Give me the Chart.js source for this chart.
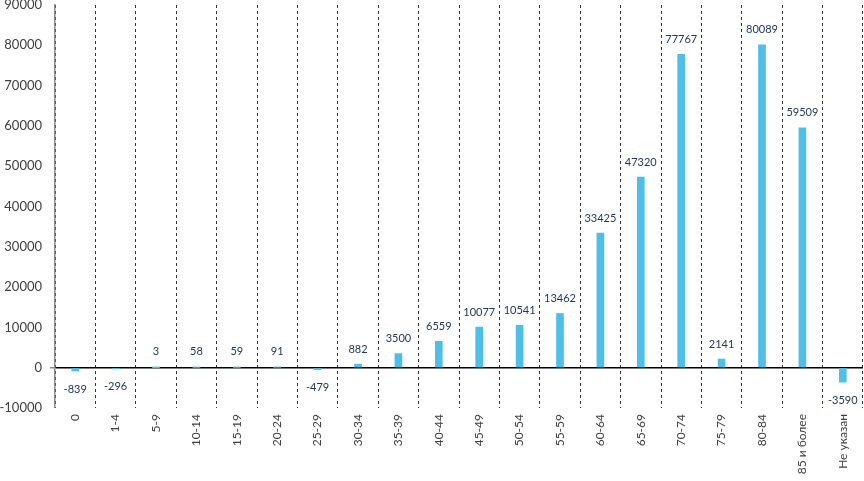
<!DOCTYPE html>
<html>
<head>
<meta charset="utf-8">
<script src="https://cdn.jsdelivr.net/npm/chart.js@4.4.0/dist/chart.umd.min.js"></script>
<style>
html,body{margin:0;padding:0;background:#fff;}
#wrap{width:864px;height:481px;position:relative;}
</style>
</head>
<body>
<div id="wrap"><canvas id="c"></canvas></div>
<script>
const categories = ["0","1-4","5-9","10-14","15-19","20-24","25-29","30-34","35-39","40-44","45-49","50-54","55-59","60-64","65-69","70-74","75-79","80-84","85 и более","Не указан"];
const values = [-839,-296,3,58,59,91,-479,882,3500,6559,10077,10541,13462,33425,47320,77767,2141,80089,59509,-3590];
const yMin = -10000, yMax = 90000, yStep = 10000;

const labelPlugin = {
  id: 'barLabels',
  afterDatasetsDraw(chart) {
    const ctx = chart.ctx;
    const meta = chart.getDatasetMeta(0);
    ctx.save();
    ctx.font = '11px Lato';
    ctx.fillStyle = '#1f3864';
    ctx.textAlign = 'center';
    ctx.textBaseline = 'middle';
    meta.data.forEach((bar, i) => {
      const v = values[i];
      const y = v >= 0 ? Math.min(bar.y, bar.base) - 15 : Math.max(bar.y, bar.base) + 18;
      ctx.fillText(String(v), bar.x, y);
    });
    ctx.restore();
  }
};

new Chart(document.getElementById('c'), {
  type: 'bar',
  data: {
    labels: categories,
    datasets: [{
      data: values,
      backgroundColor: '#4dbfe8',
      barThickness: 7
    }]
  },
  options: {
    responsive: true,
    maintainAspectRatio: false,
    animation: false,
    layout: { padding: { top: 5, right: 1, left: 0, bottom: 0 } },
    plugins: { legend: { display: false }, tooltip: { enabled: false } },
    scales: {
      x: {
        offset: true,
        grid: {
          display: true,
          offset: true,
          color: '#333333',
          lineWidth: 1,
          drawTicks: false
        },
        border: { display: false, dash: [3, 3] },
        ticks: {
          font: { family: 'Lato', size: 12 },
          color: '#404040',
          minRotation: 90,
          maxRotation: 90,
          autoSkip: false,
          padding: 6
        },
        afterFit(scale) { scale.height = 73; }
      },
      y: {
        min: yMin,
        max: yMax,
        ticks: {
          stepSize: yStep,
          font: { family: 'Lato', size: 13 },
          color: '#404040',
          padding: 8,
          callback: (v) => String(v)
        },
        grid: {
          color: (c) => (c.tick && c.tick.value === 0) ? '#000000' : 'rgba(0,0,0,0)',
          lineWidth: (c) => (c.tick && c.tick.value === 0) ? 1.5 : 0,
          tickColor: '#8c8c8c',
          tickLength: 5
        },
        border: { display: true, color: '#8c8c8c', width: 1.5 },
        afterFit(scale) { scale.width = 55; scale.paddingTop = 0; scale.paddingBottom = 0; }
      }
    }
  },
  plugins: [labelPlugin]
});
</script>
</body>
</html>
